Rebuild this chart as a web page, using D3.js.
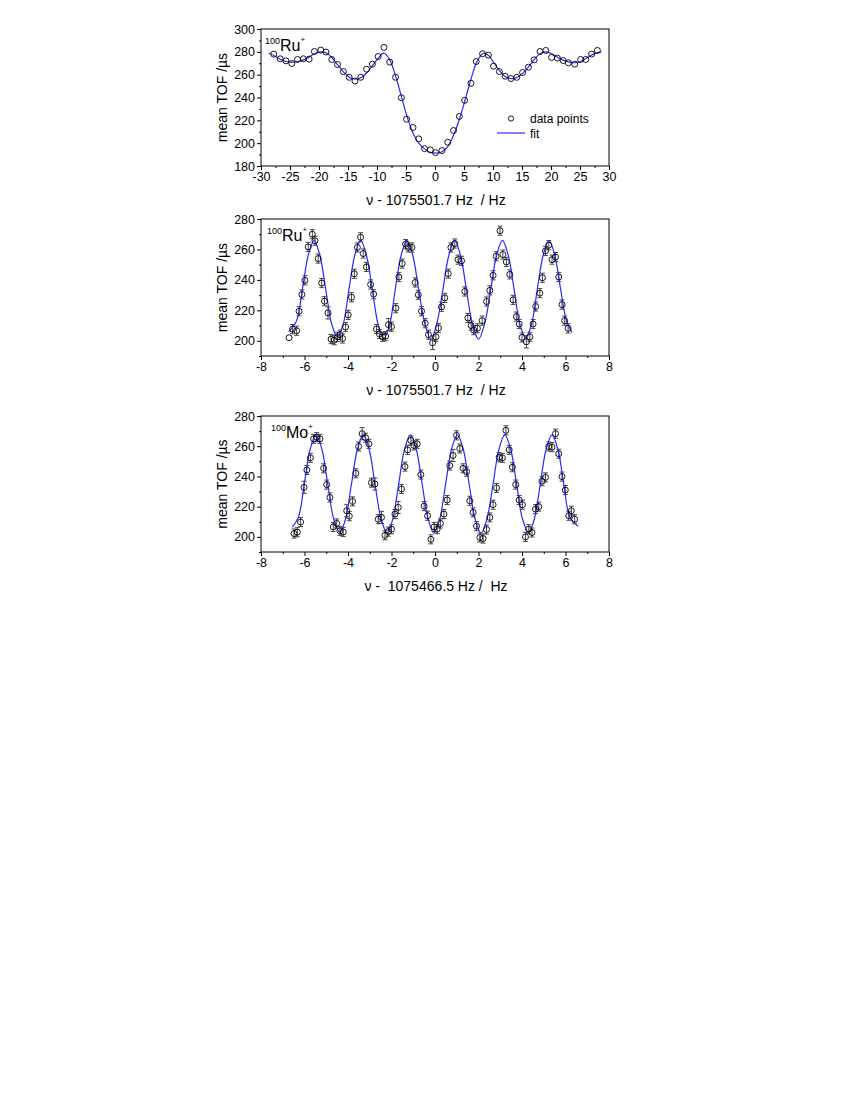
<!DOCTYPE html>
<html>
<head>
<meta charset="utf-8">
<script src="https://cdn.jsdelivr.net/npm/d3@7"></script>
<style>
  body { margin: 0; background: #fff; }
  svg text { font-family: Arial, 'Liberation Sans', sans-serif; fill: #000; }
</style>
</head>
<body>
<svg id="chart" width="850" height="1100"></svg>
<script>
// top panel: 100Ru+ wide scan
var topX = [-27.8,-26.7,-25.7,-24.7,-23.7,-22.7,-21.7,-20.8,-19.7,-18.8,-17.8,-16.8,-15.8,-14.8,-13.8,-12.8,-11.8,-10.8,-9.8,-8.8,-7.8,-6.8,-5.8,-4.9,-3.8,-2.8,-1.8,-0.8,0.1,1.2,2.2,3.2,4.2,5.1,6.2,7.1,8.2,9.2,10.1,11.1,12.1,13.1,14.1,15.1,16.1,17.1,18.1,19.1,20.1,21.1,22.1,23.0,24.1,25.1,26.0,27.0,28.0]
var topY = [278.0,273.9,272.1,269.8,273.3,273.9,273.6,280.3,281.5,279.8,273.3,268.9,262.7,257.7,254.5,257.7,264.8,269.2,275.9,283.9,271.0,257.7,239.8,221.0,213.7,203.8,195.2,194.1,191.7,193.5,200.8,211.1,223.4,237.5,252.5,271.5,278.3,277.1,267.4,262.7,258.6,256.6,257.7,261.9,266.5,273.0,280.3,281.2,275.1,274.5,272.4,270.4,269.2,273.3,273.3,278.0,281.2]
var topFitX = [-28.7,-27.7,-26.7,-25.7,-24.7,-23.7,-22.7,-21.7,-20.7,-19.7,-18.7,-17.7,-16.7,-15.7,-14.7,-13.7,-12.7,-11.7,-10.7,-9.7,-8.8,-7.8,-6.8,-5.8,-4.8,-3.8,-2.8,-1.8,-0.8,0.2,1.2,2.2,3.2,4.2,5.2,6.2,7.2,8.3,9.2,10.2,11.2,12.2,13.3,14.3,15.3,16.3,17.3,18.3,19.2,20.2,21.2,22.2,23.2,24.3,25.3,26.3,27.3,28.7]
var topFitY = [279,276.5,273.5,271.5,270.8,271.5,273,275.5,278.5,280,279,274.5,268,262,257.5,256,257.5,262,268.5,275,279,273,259,241,223,209,200,195,192,191.3,192.5,197,207,221,238,256,271,278.5,277,270,263,258,256.5,258,262,268,274.5,279,280,278,275,272.5,271,270.5,272,275,278,280]

// middle panel: 100Ru+ Ramsey fringes
var midX = [-6.71,-6.55,-6.36,-6.25,-6.12,-5.98,-5.83,-5.64,-5.52,-5.37,-5.21,-5.08,-4.92,-4.78,-4.63,-4.48,-4.37,-4.25,-4.11,-3.99,-3.84,-3.71,-3.57,-3.42,-3.30,-3.15,-2.96,-2.82,-2.69,-2.55,-2.41,-2.27,-2.14,-2.00,-1.80,-1.66,-1.51,-1.35,-1.23,-1.06,-0.91,-0.77,-0.62,-0.45,-0.30,-0.11,0.04,0.16,0.30,0.45,0.61,0.73,0.91,1.06,1.22,1.37,1.51,1.66,1.78,1.95,2.17,2.37,2.52,2.67,2.81,2.99,3.12,3.28,3.44,3.59,3.74,3.87,4.00,4.20,4.36,4.51,4.63,4.82,4.94,5.08,5.23,5.38,5.54,5.69,5.84,5.96,6.12]
var midY = [202.0,207.7,206.6,219.4,230.4,239.7,261.7,270.0,265.7,254.0,237.9,226.0,218.3,201.1,200.4,202.6,204.0,201.5,209.0,217.0,228.6,244.0,261.3,268.0,257.3,248.5,237.0,230.6,207.7,204.4,202.6,203.0,210.6,209.3,221.4,241.9,250.7,263.5,261.3,261.3,238.3,230.2,219.4,211.5,204.0,198.7,202.6,208.4,222.3,228.2,244.1,261.3,263.9,253.3,252.5,232.4,215.0,210.0,207.0,208.2,213.2,225.8,233.1,243.0,255.5,272.3,256.6,251.8,243.6,226.9,215.9,211.0,202.2,199.3,202.6,211.0,222.5,231.3,241.4,259.0,262.8,253.3,255.0,241.9,223.8,213.2,208.2]
var midErr = [0,3,3,3,3,3,3,3,3,3,3,3,4,3,3,3,3,3,3,3,3,3,3,3,3,3,3,3,3,3,3,3,4,3,3,3,3,3,3,3,3,3,3,3,3,4.5,3,3,3,3,3,3,3,3,3,3,3,3,3,3,3,3,3,3,3,3,3,3,3,3,3,3,3,4,3,3,3,3,3,3,3,3,3,3,3,3,3]
var midFitX = [-6.73,-6.37,-6.1,-5.83,-5.56,-5.29,-5.02,-4.75,-4.49,-4.22,-3.96,-3.69,-3.42,-3.15,-2.88,-2.62,-2.35,-2.08,-1.83,-1.56,-1.29,-1.02,-0.75,-0.46,-0.19,0.08,0.36,0.635,0.905,1.175,1.445,1.72,2.0,2.28,2.56,2.83,3.1,3.37,3.64,3.9,4.17,4.44,4.7,4.97,5.24,5.51,5.78,6.05,6.3]
var midFitY = [206,213,233.5,256,266,256,233.5,211,202.5,211,233.5,256,266,256,233.5,211,201.5,211,233.5,256,266,256,233.5,211,201,211,233.5,256,266,256,233.5,211,201,211,233.5,256,266,256,233.5,211,202,211,233.5,256,266,256,233.5,213,205.5]

// bottom panel: 100Mo+ Ramsey fringes
var botX = [-6.48,-6.33,-6.18,-6.02,-5.89,-5.73,-5.58,-5.44,-5.29,-5.12,-4.98,-4.83,-4.68,-4.52,-4.37,-4.22,-4.06,-3.94,-3.79,-3.64,-3.51,-3.35,-3.19,-3.04,-2.92,-2.76,-2.61,-2.46,-2.30,-2.15,-2.00,-1.84,-1.69,-1.54,-1.38,-1.26,-1.11,-0.97,-0.82,-0.65,-0.50,-0.34,-0.19,-0.04,0.10,0.25,0.41,0.56,0.68,0.83,0.99,1.14,1.29,1.45,1.60,1.75,1.91,2.06,2.21,2.37,2.52,2.67,2.83,2.95,3.10,3.26,3.41,3.56,3.71,3.87,4.02,4.16,4.31,4.46,4.62,4.77,4.92,5.08,5.23,5.38,5.54,5.69,5.84,5.99,6.15,6.27,6.42]
var botY = [202.2,203.1,209.8,232.8,244.3,252.3,264.9,266.0,264.9,245.4,234.6,226.1,206.6,208.9,204.0,203.3,217.3,213.7,223.5,242.1,259.8,268.3,265.6,261.6,235.9,235.0,211.7,212.9,201.1,203.5,205.1,215.1,219.5,231.7,246.5,257.6,263.8,260.5,261.6,241.2,220.4,214.0,198.4,206.6,205.1,208.9,215.1,224.4,247.2,253.9,267.2,258.5,245.4,243.2,223.9,216.2,207.1,199.6,198.9,204.9,212.9,221.3,232.4,252.7,252.3,270.5,257.6,246.1,234.6,224.4,221.3,200.0,205.1,202.9,218.4,220.0,236.8,239.4,259.8,259.4,268.3,255.0,239.9,231.0,214.0,217.3,211.7]
var botErr = [3,3,3,4,3,3,3,3,3,3,3,3,3,3,3,3,4,3,3,3,3,4,3,3,3,4,3,4,3,3,3,3,4,3,3,3,3,3,3,3,3,3,3,3,3,3,3,3,3,4,3,3,3,3,3,3,3,3,3,3,3,3,3,3,3,3,3,3,3,3,3,3,3,3,3,3,3,3,3,3,3,3,3,3,3,3,3]
var botFitX = [-6.56,-6.28,-6.01,-5.74,-5.47,-5.2,-4.93,-4.66,-4.38,-4.11,-3.84,-3.57,-3.3,-3.03,-2.76,-2.48,-2.2,-1.94,-1.67,-1.4,-1.13,-0.86,-0.59,-0.32,-0.05,0.22,0.49,0.76,1.03,1.3,1.57,1.84,2.12,2.39,2.67,2.94,3.21,3.48,3.75,4.02,4.3,4.57,4.84,5.11,5.38,5.65,5.92,6.2,6.58]
var botFitY = [206.5,213,235,258,267.5,258,235,212,203,212,235,258,267.5,258,235,212,202.5,212,235,258,267.5,258,235,212,202.5,212,235,258,267.5,258,235,212,202.5,212,235,258,267.5,258,235,212,203,212,235,258,267.5,258,235,213,207]

// tick values
var topXTicks = [-30,-25,-20,-15,-10,-5,0,5,10,15,20,25,30]
var topXMinor = [-27.5,-22.5,-17.5,-12.5,-7.5,-2.5,2.5,7.5,12.5,17.5,22.5,27.5]
var topYTicks = [180,200,220,240,260,280,300]
var topYMinor = [190,210,230,250,270,290]
var fringeXTicks = [-8,-6,-4,-2,0,2,4,6,8]
var fringeXMinor = [-7,-5,-3,-1,1,3,5,7]
var fringeYTicks = [200,220,240,260,280]
var fringeYMinor = [190,210,230,250,270]

var svg = d3.select('#chart')
var left = 261, right = 609

// plain hyphen for negative tick labels, like the original
function fmt(d) {
  return String(d)
}

function zip(xs, ys, es) {
  return xs.map(function(x, i) {
    return { x: x, y: ys[i], e: es ? es[i] : 0 }
  })
}

function drawPanel(p) {
  var x = d3.scaleLinear().domain(p.xDomain).range([left, right])
  var y = d3.scaleLinear().domain(p.yDomain).range([p.bottom, p.top])
  var g = svg.append('g')

  // minor ticks first, then major ticks with labels
  g.append('g')
    .attr('transform', 'translate(0,' + p.bottom + ')')
    .call(d3.axisBottom(x).tickValues(p.xMinor).tickSize(2).tickFormat(''))
  g.append('g')
    .attr('transform', 'translate(' + left + ',0)')
    .call(d3.axisLeft(y).tickValues(p.yMinor).tickSize(2).tickFormat(''))
  g.append('g')
    .attr('transform', 'translate(0,' + p.bottom + ')')
    .call(d3.axisBottom(x).tickValues(p.xTicks).tickSize(4).tickPadding(2).tickFormat(fmt))
  g.append('g')
    .attr('transform', 'translate(' + left + ',0)')
    .call(d3.axisLeft(y).tickValues(p.yTicks).tickSize(4).tickPadding(2).tickFormat(fmt))

  g.selectAll('.domain').remove()
  g.selectAll('.tick line').attr('stroke', '#000')
  g.selectAll('.tick text')
    .style('font-family', "Arial, 'Liberation Sans', sans-serif")
    .style('font-size', '12.5px')

  // frame
  g.append('rect')
    .attr('x', left)
    .attr('y', p.top)
    .attr('width', right - left)
    .attr('height', p.bottom - p.top)
    .attr('fill', 'none')
    .attr('stroke', '#000')
    .attr('stroke-width', 1)

  var pts = zip(p.xs, p.ys, p.errs)

  // error bars
  if (p.errs) {
    var eb = g.selectAll('.err').data(pts.filter(function(d) { return d.e > 0 }))
      .enter().append('g')
      .attr('stroke', '#333')
      .attr('stroke-width', 0.9)
    eb.append('line')
      .attr('x1', d => x(d.x)).attr('x2', d => x(d.x))
      .attr('y1', d => y(d.y - d.e)).attr('y2', d => y(d.y + d.e))
    eb.append('line')
      .attr('x1', d => x(d.x) - 2.5).attr('x2', d => x(d.x) + 2.5)
      .attr('y1', d => y(d.y + d.e)).attr('y2', d => y(d.y + d.e))
    eb.append('line')
      .attr('x1', d => x(d.x) - 2.5).attr('x2', d => x(d.x) + 2.5)
      .attr('y1', d => y(d.y - d.e)).attr('y2', d => y(d.y - d.e))
  }

  // fit curve
  var line = d3.line()
    .x(d => x(d.x))
    .y(d => y(d.y))
    .curve(d3.curveCatmullRom.alpha(0.5))
  g.append('path')
    .datum(zip(p.fitX, p.fitY))
    .attr('d', line)
    .attr('fill', 'none')
    .attr('stroke', '#2a2aff')
    .attr('stroke-width', 1.2)

  // data points
  g.selectAll('.pt').data(pts)
    .enter().append('circle')
    .attr('cx', d => x(d.x))
    .attr('cy', d => y(d.y))
    .attr('r', 3)
    .attr('fill', 'none')
    .attr('stroke', '#000')
    .attr('stroke-width', 0.9)

  // axis titles
  g.append('text')
    .attr('x', 436)
    .attr('y', p.bottom + 39)
    .attr('text-anchor', 'middle')
    .attr('xml:space', 'preserve')
    .style('font-size', '14px')
    .style('white-space', 'pre')
    .text(p.xTitle)
  g.append('text')
    .attr('transform', 'translate(227,' + (p.top + p.bottom) / 2 + ') rotate(-90)')
    .attr('text-anchor', 'middle')
    .style('font-size', '14px')
    .text('mean TOF /µs')

  // isotope label
  var lab = g.append('text')
    .attr('x', p.labX)
    .attr('y', p.top + 22)
  lab.append('tspan').attr('dy', -7).style('font-size', '9px').text('100')
  lab.append('tspan').attr('dy', 7).style('font-size', '16px').text(p.ion)
  lab.append('tspan').attr('dy', -9).style('font-size', '8px').text('+')

  return { x: x, y: y, g: g }
}

var topPanel = drawPanel({
  top: 29, bottom: 166,
  xDomain: [-30, 30], yDomain: [180, 300],
  xTicks: topXTicks, xMinor: topXMinor, yTicks: topYTicks, yMinor: topYMinor,
  xs: topX, ys: topY, errs: null,
  fitX: topFitX, fitY: topFitY,
  xTitle: 'ν - 1075501.7 Hz  / Hz',
  ion: 'Ru', labX: 265
})

drawPanel({
  top: 219, bottom: 356,
  xDomain: [-8, 8], yDomain: [190, 280],
  xTicks: fringeXTicks, xMinor: fringeXMinor, yTicks: fringeYTicks, yMinor: fringeYMinor,
  xs: midX, ys: midY, errs: midErr,
  fitX: midFitX, fitY: midFitY,
  xTitle: 'ν - 1075501.7 Hz  / Hz',
  ion: 'Ru', labX: 267
})

drawPanel({
  top: 416, bottom: 552,
  xDomain: [-8, 8], yDomain: [190, 280],
  xTicks: fringeXTicks, xMinor: fringeXMinor, yTicks: fringeYTicks, yMinor: fringeYMinor,
  xs: botX, ys: botY, errs: botErr,
  fitX: botFitX, fitY: botFitY,
  xTitle: 'ν -  1075466.5 Hz /  Hz',
  ion: 'Mo', labX: 271
})

// legend in top panel
var leg = topPanel.g.append('g')
leg.append('circle')
  .attr('cx', 511).attr('cy', 118.5).attr('r', 2.6)
  .attr('fill', 'none').attr('stroke', '#000').attr('stroke-width', 0.9)
leg.append('text')
  .attr('x', 530).attr('y', 123)
  .style('font-size', '12px')
  .text('data points')
leg.append('line')
  .attr('x1', 497).attr('x2', 525).attr('y1', 133).attr('y2', 133)
  .attr('stroke', '#2a2aff').attr('stroke-width', 1.2)
leg.append('text')
  .attr('x', 530).attr('y', 138)
  .style('font-size', '12px')
  .text('fit')
</script>
</body>
</html>
